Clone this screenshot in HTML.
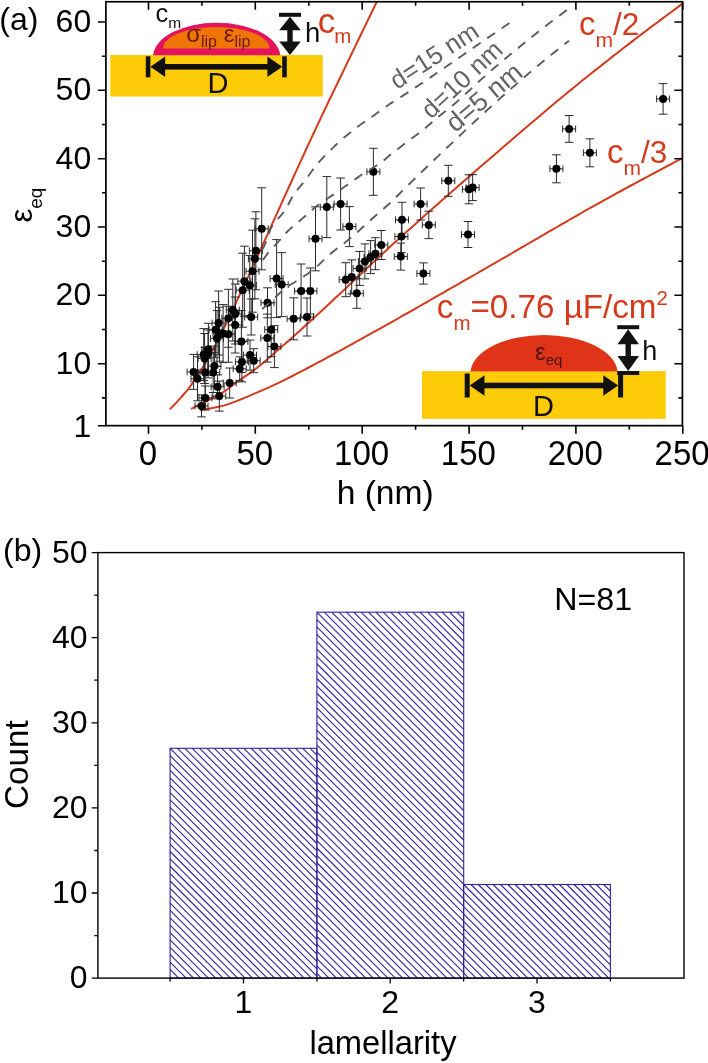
<!DOCTYPE html>
<html lang="en"><head><meta charset="utf-8"><title>Figure</title>
<style>html,body{margin:0;padding:0;background:#fff}svg{display:block}</style></head>
<body>
<svg width="708" height="1063" viewBox="0 0 708 1063" font-family='"Liberation Sans", sans-serif'>
<rect x="0" y="0" width="708" height="1063" fill="#ffffff"/>
<defs><clipPath id="ca"><rect x="105.9" y="1.75" width="576.5" height="423.95"/></clipPath>
</defs>
<rect x="110.3" y="55" width="212.5" height="41.5" fill="#fdcb08"/>
<path d="M153.0,55.2 A63.76,34.50 0 0 1 280.3,55.2 Z" fill="#e5125d"/>
<path d="M163.0,48.4 A53.30,21.51 0 0 1 269.6,48.4 Z" fill="#ee7406"/>
<rect x="145.8" y="56.3" width="4.6" height="21" fill="#111"/><rect x="282.2" y="56.3" width="4.6" height="21" fill="#111"/><rect x="164.2" y="64.0" width="104.2" height="5.6" fill="#111"/><path d="M150.4,66.8 L165.2,56.5 L165.2,77.0 Z" fill="#111"/><path d="M282.2,66.8 L267.4,56.5 L267.4,77.0 Z" fill="#111"/>
<rect x="279.0" y="12.8" width="22" height="4" fill="#111"/><rect x="287.3" y="29.3" width="5.4" height="13.2" fill="#111"/><path d="M290.0,16.8 L279.2,30.3 L300.8,30.3 Z" fill="#111"/><path d="M290.0,55.0 L279.2,41.5 L300.8,41.5 Z" fill="#111"/>
<text x="218" y="92.5" font-size="29" text-anchor="middle" fill="#111">D</text>
<text x="155.6" y="21.9" font-size="25.5" fill="#111">c<tspan font-size="15.5" dy="5.8">m</tspan></text>
<text x="186.2" y="41.8" font-size="24" fill="#6e1a10">σ<tspan font-size="16" dy="4.8">lip</tspan><tspan dy="-4.8" font-size="24"> ε</tspan><tspan font-size="16" dy="4.8">lip</tspan></text>
<text x="305" y="41.7" font-size="27.5" fill="#111">h</text>
<text x="317.8" y="32.6" font-size="35" fill="#d63a1c">c<tspan font-size="20.5" dy="10.8" dx="-1.0">m</tspan></text>
<rect x="422" y="371.2" width="243.7" height="47.6" fill="#fdcb08"/>
<path d="M470.6,371.4 A73.55,38.40 0 0 1 617.5,371.4 Z" fill="#df3418"/>
<rect x="464.7" y="373.5" width="5" height="24" fill="#111"/><rect x="618.1" y="373.5" width="5" height="24" fill="#111"/><rect x="483.5" y="382.7" width="120.8" height="5.6" fill="#111"/><path d="M469.7,385.5 L484.5,375.2 L484.5,395.8 Z" fill="#111"/><path d="M618.1,385.5 L603.3,375.2 L603.3,395.8 Z" fill="#111"/>
<rect x="617.2" y="325.2" width="22" height="4" fill="#111"/><rect x="617.2" y="371.0" width="22" height="4" fill="#111"/><rect x="625.5" y="343.2" width="5.4" height="13.8" fill="#111"/><path d="M628.2,329.2 L617.5,344.2 L639.0,344.2 Z" fill="#111"/><path d="M628.2,371.0 L617.5,356.0 L639.0,356.0 Z" fill="#111"/>
<text x="543.6" y="416.3" font-size="29" text-anchor="middle" fill="#111">D</text>
<text x="535" y="359.6" font-size="24" fill="#4a100a">ε<tspan font-size="15" dy="5">eq</tspan></text>
<text x="642.3" y="359.5" font-size="27" fill="#111">h</text>
<g clip-path="url(#ca)" fill="none">
<path d="M169.9,409.3 L171.7,407.4 L173.5,405.5 L175.4,403.6 L177.2,401.6 L179.0,399.6 L180.9,397.6 L182.7,395.5 L184.5,393.5 L186.4,391.4 L188.2,389.2 L190.0,386.7 L191.9,383.9 L193.7,380.9 L195.5,378.1 L197.3,375.4 L199.2,372.8 L201.0,370.1 L202.8,367.2 L204.7,364.2 L206.5,361.1 L208.3,357.9 L210.2,354.6 L212.0,351.3 L213.8,347.9 L215.7,344.4 L217.5,340.9 L219.3,337.3 L221.2,333.7 L223.0,330.0 L224.8,326.3 L226.7,322.5 L228.5,318.7 L230.3,314.9 L232.1,311.0 L234.0,307.1 L235.8,303.1 L237.6,299.2 L239.5,295.3 L241.3,291.3 L243.1,287.4 L245.0,283.5 L246.8,279.5 L248.6,275.6 L250.5,271.7 L252.3,267.7 L254.1,263.7 L256.0,259.7 L257.8,255.8 L259.6,251.8 L261.5,247.7 L263.3,243.7 L265.1,239.7 L267.0,235.6 L268.8,231.6 L270.6,227.5 L272.4,223.5 L274.3,219.4 L276.1,215.4 L277.9,211.3 L279.8,207.3 L281.6,203.2 L283.4,199.2 L285.3,195.1 L287.1,191.1 L288.9,187.0 L290.8,183.0 L292.6,179.0 L294.4,174.9 L296.3,170.9 L298.1,166.9 L299.9,162.9 L301.8,158.9 L303.6,155.0 L305.4,151.0 L307.2,147.0 L309.1,143.1 L310.9,139.2 L312.7,135.2 L314.6,131.3 L316.4,127.4 L318.2,123.5 L320.1,119.6 L321.9,115.7 L323.7,111.9 L325.6,108.0 L327.4,104.1 L329.2,100.3 L331.1,96.5 L332.9,92.7 L334.7,88.9 L336.6,85.1 L338.4,81.3 L340.2,77.5 L342.1,73.7 L343.9,69.9 L345.7,66.1 L347.5,62.3 L349.4,58.5 L351.2,54.7 L353.0,50.9 L354.9,47.1 L356.7,43.3 L358.5,39.5 L360.4,35.7 L362.2,31.9 L364.0,28.1 L365.9,24.4 L367.7,20.6 L369.5,16.8 L371.4,13.0 L373.2,9.2 L375.0,5.4 L376.9,1.6 L378.7,-2.2 L380.5,-5.9 L382.3,-9.7 L384.2,-13.5 L386.0,-17.3 L387.8,-21.1" stroke="#d63a1c" stroke-width="2"/>
<path d="M191.0,408.8 L195.2,406.8 L199.3,404.7 L203.4,402.7 L207.5,400.6 L211.7,398.5 L215.8,396.5 L219.9,394.2 L224.1,391.7 L228.2,388.7 L232.3,385.5 L236.4,382.4 L240.6,379.5 L244.7,376.7 L248.8,373.9 L253.0,370.9 L257.1,367.8 L261.2,364.5 L265.3,361.0 L269.5,357.4 L273.6,353.8 L277.7,350.2 L281.9,346.6 L286.0,343.0 L290.1,339.4 L294.2,335.7 L298.4,332.0 L302.5,328.3 L306.6,324.6 L310.8,320.8 L314.9,317.0 L319.0,313.2 L323.1,309.4 L327.3,305.5 L331.4,301.7 L335.5,297.8 L339.7,294.0 L343.8,290.1 L347.9,286.2 L352.0,282.3 L356.2,278.4 L360.3,274.5 L364.4,270.7 L368.6,266.8 L372.7,262.9 L376.8,259.1 L380.9,255.2 L385.1,251.4 L389.2,247.6 L393.3,243.8 L397.5,240.1 L401.6,236.3 L405.7,232.6 L409.8,228.9 L414.0,225.2 L418.1,221.5 L422.2,217.8 L426.4,214.1 L430.5,210.5 L434.6,206.8 L438.7,203.2 L442.9,199.5 L447.0,195.9 L451.1,192.3 L455.3,188.7 L459.4,185.1 L463.5,181.5 L467.6,177.9 L471.8,174.3 L475.9,170.7 L480.0,167.1 L484.2,163.6 L488.3,160.0 L492.4,156.4 L496.5,152.9 L500.7,149.3 L504.8,145.8 L508.9,142.2 L513.1,138.6 L517.2,135.1 L521.3,131.6 L525.4,128.0 L529.6,124.5 L533.7,121.0 L537.8,117.5 L542.0,114.0 L546.1,110.5 L550.2,107.0 L554.3,103.6 L558.5,100.1 L562.6,96.7 L566.7,93.3 L570.9,89.9 L575.0,86.5 L579.1,83.2 L583.2,79.8 L587.4,76.5 L591.5,73.2 L595.6,69.9 L599.8,66.7 L603.9,63.4 L608.0,60.2 L612.1,56.9 L616.3,53.7 L620.4,50.5 L624.5,47.3 L628.7,44.1 L632.8,40.9 L636.9,37.8 L641.0,34.6 L645.2,31.5 L649.3,28.4 L653.4,25.2 L657.6,22.2 L661.7,19.1 L665.8,16.0 L669.9,13.0 L674.1,9.9 L678.2,6.9 L682.3,3.9" stroke="#d63a1c" stroke-width="2"/>
<path d="M200.0,410.2 L204.1,409.5 L208.1,408.8 L212.2,408.1 L216.2,407.3 L220.3,406.4 L224.3,405.4 L228.4,404.1 L232.5,402.6 L236.5,401.1 L240.6,399.5 L244.6,397.9 L248.7,396.2 L252.7,394.4 L256.8,392.7 L260.9,390.9 L264.9,389.1 L269.0,387.3 L273.0,385.4 L277.1,383.6 L281.1,381.6 L285.2,379.6 L289.2,377.6 L293.3,375.5 L297.4,373.4 L301.4,371.3 L305.5,369.2 L309.5,367.0 L313.6,364.9 L317.6,362.7 L321.7,360.6 L325.8,358.4 L329.8,356.2 L333.9,354.0 L337.9,351.8 L342.0,349.6 L346.0,347.4 L350.1,345.1 L354.2,342.9 L358.2,340.7 L362.3,338.4 L366.3,336.2 L370.4,333.9 L374.4,331.7 L378.5,329.4 L382.6,327.1 L386.6,324.9 L390.7,322.6 L394.7,320.3 L398.8,318.0 L402.8,315.7 L406.9,313.4 L411.0,311.1 L415.0,308.8 L419.1,306.5 L423.1,304.2 L427.2,301.9 L431.2,299.5 L435.3,297.2 L439.3,294.9 L443.4,292.6 L447.5,290.2 L451.5,287.9 L455.6,285.6 L459.6,283.3 L463.7,280.9 L467.7,278.6 L471.8,276.3 L475.9,274.0 L479.9,271.6 L484.0,269.3 L488.0,267.0 L492.1,264.7 L496.1,262.3 L500.2,260.0 L504.3,257.7 L508.3,255.3 L512.4,253.0 L516.4,250.6 L520.5,248.2 L524.5,245.9 L528.6,243.5 L532.7,241.2 L536.7,238.8 L540.8,236.4 L544.8,234.1 L548.9,231.7 L552.9,229.4 L557.0,227.0 L561.0,224.7 L565.1,222.3 L569.2,220.0 L573.2,217.7 L577.3,215.4 L581.3,213.0 L585.4,210.7 L589.4,208.4 L593.5,206.2 L597.6,203.9 L601.6,201.6 L605.7,199.4 L609.7,197.1 L613.8,194.9 L617.8,192.7 L621.9,190.5 L626.0,188.2 L630.0,186.0 L634.1,183.8 L638.1,181.7 L642.2,179.5 L646.2,177.3 L650.3,175.1 L654.4,173.0 L658.4,170.8 L662.5,168.7 L666.5,166.5 L670.6,164.4 L674.6,162.2 L678.7,160.1 L682.8,158.0" stroke="#d63a1c" stroke-width="2"/>
</g>
<g clip-path="url(#ca)">
<path d="M201.5,394.9V416.9M197.2,394.9H205.8M197.2,416.9H205.8M195.0,405.9H208.0M195.0,402.5V409.3M208.0,402.5V409.3M205.4,386.0V410.0M201.1,386.0H209.7M201.1,410.0H209.7M198.9,398.0H211.9M198.9,394.6V401.4M211.9,394.6V401.4M219.3,381.1V411.1M215.0,381.1H223.6M215.0,411.1H223.6M212.8,396.1H225.8M212.8,392.7V399.5M225.8,392.7V399.5M217.6,374.8V398.8M213.3,374.8H221.9M213.3,398.8H221.9M211.1,386.8H224.1M211.1,383.4V390.2M224.1,383.4V390.2M229.7,368.0V398.0M225.4,368.0H234.0M225.4,398.0H234.0M223.2,383.0H236.2M223.2,379.6V386.4M236.2,379.6V386.4M197.5,356.8V400.8M193.2,356.8H201.8M193.2,400.8H201.8M191.0,378.8H204.0M191.0,375.4V382.2M204.0,375.4V382.2M193.6,354.4V389.4M189.3,354.4H197.9M189.3,389.4H197.9M187.1,371.9H200.1M187.1,368.5V375.3M200.1,368.5V375.3M205.1,347.5V397.5M200.8,347.5H209.4M200.8,397.5H209.4M198.6,372.5H211.6M198.6,369.1V375.9M211.6,369.1V375.9M213.2,352.5V392.5M208.9,352.5H217.5M208.9,392.5H217.5M206.7,372.5H219.7M206.7,369.1V375.9M219.7,369.1V375.9M214.4,346.1V386.1M210.1,346.1H218.7M210.1,386.1H218.7M207.9,366.1H220.9M207.9,362.7V369.5M220.9,362.7V369.5M239.7,356.8V380.8M235.4,356.8H244.0M235.4,380.8H244.0M233.2,368.8H246.2M233.2,365.4V372.2M246.2,365.4V372.2M241.9,341.9V381.9M237.6,341.9H246.2M237.6,381.9H246.2M235.4,361.9H248.4M235.4,358.5V365.3M248.4,358.5V365.3M250.0,340.1V370.1M245.7,340.1H254.3M245.7,370.1H254.3M243.5,355.1H256.5M243.5,351.7V358.5M256.5,351.7V358.5M253.7,348.7V372.7M249.4,348.7H258.0M249.4,372.7H258.0M247.2,360.7H260.2M247.2,357.3V364.1M260.2,357.3V364.1M204.6,333.5V383.5M200.3,333.5H208.9M200.3,383.5H208.9M198.1,358.5H211.1M198.1,355.1V361.9M211.1,355.1V361.9M203.7,328.6V380.6M199.4,328.6H208.0M199.4,380.6H208.0M197.2,354.6H210.2M197.2,351.2V358.0M210.2,351.2V358.0M208.0,329.9V377.9M203.7,329.9H212.3M203.7,377.9H212.3M201.5,353.9H214.5M201.5,350.5V357.3M214.5,350.5V357.3M208.4,323.3V375.3M204.1,323.3H212.7M204.1,375.3H212.7M201.9,349.3H214.9M201.9,345.9V352.7M214.9,345.9V352.7M241.4,310.5V372.5M237.1,310.5H245.7M237.1,372.5H245.7M234.9,341.5H247.9M234.9,338.1V344.9M247.9,338.1V344.9M274.4,325.6V367.6M270.1,325.6H278.7M270.1,367.6H278.7M267.9,346.6H280.9M267.9,343.2V350.0M280.9,343.2V350.0M267.3,314.1V362.1M263.0,314.1H271.6M263.0,362.1H271.6M260.8,338.1H273.8M260.8,334.7V341.5M273.8,334.7V341.5M271.2,302.7V356.7M266.9,302.7H275.5M266.9,356.7H275.5M264.7,329.7H277.7M264.7,326.3V333.1M277.7,326.3V333.1M217.0,310.6V366.6M212.7,310.6H221.3M212.7,366.6H221.3M210.5,338.6H223.5M210.5,335.2V342.0M223.5,335.2V342.0M219.5,307.2V361.2M215.2,307.2H223.8M215.2,361.2H223.8M213.0,334.2H226.0M213.0,330.8V337.6M226.0,330.8V337.6M223.1,304.6V362.6M218.8,304.6H227.4M218.8,362.6H227.4M216.6,333.6H229.6M216.6,330.2V337.0M229.6,330.2V337.0M228.4,306.2V362.2M224.1,306.2H232.7M224.1,362.2H232.7M221.9,334.2H234.9M221.9,330.8V337.6M234.9,330.8V337.6M215.6,301.7V357.7M211.3,301.7H219.9M211.3,357.7H219.9M209.1,329.7H222.1M209.1,326.3V333.1M222.1,326.3V333.1M218.6,291.0V355.0M214.3,291.0H222.9M214.3,355.0H222.9M212.1,323.0H225.1M212.1,319.6V326.4M225.1,319.6V326.4M235.2,297.0V353.0M230.9,297.0H239.5M230.9,353.0H239.5M228.7,325.0H241.7M228.7,321.6V328.4M241.7,321.6V328.4M228.4,289.3V347.3M224.1,289.3H232.7M224.1,347.3H232.7M221.9,318.3H234.9M221.9,314.9V321.7M234.9,314.9V321.7M235.3,284.0V344.0M231.0,284.0H239.6M231.0,344.0H239.6M228.8,314.0H241.8M228.8,310.6V317.4M241.8,310.6V317.4M232.8,279.0V341.0M228.5,279.0H237.1M228.5,341.0H237.1M226.3,310.0H239.3M226.3,306.6V313.4M239.3,306.6V313.4M251.2,299.0V335.0M246.9,299.0H255.5M246.9,335.0H255.5M244.7,317.0H257.7M244.7,313.6V320.4M257.7,313.6V320.4M267.5,287.8V317.8M263.2,287.8H271.8M263.2,317.8H271.8M261.0,302.8H274.0M261.0,299.4V306.2M274.0,299.4V306.2M293.6,297.8V339.8M289.3,297.8H297.9M289.3,339.8H297.9M287.1,318.8H300.1M287.1,315.4V322.2M300.1,315.4V322.2M261.7,187.8V269.8M257.4,187.8H266.0M257.4,269.8H266.0M255.2,228.8H268.2M255.2,225.4V232.2M268.2,225.4V232.2M255.9,211.8V289.8M251.6,211.8H260.2M251.6,289.8H260.2M249.4,250.8H262.4M249.4,247.4V254.2M262.4,247.4V254.2M254.9,218.8V298.8M250.6,218.8H259.2M250.6,298.8H259.2M248.4,258.8H261.4M248.4,255.4V262.2M261.4,255.4V262.2M252.5,230.2V312.2M248.2,230.2H256.8M248.2,312.2H256.8M246.0,271.2H259.0M246.0,267.8V274.6M259.0,267.8V274.6M244.4,246.2V316.2M240.1,246.2H248.7M240.1,316.2H248.7M237.9,281.2H250.9M237.9,277.8V284.6M250.9,277.8V284.6M249.8,255.4V315.4M245.5,255.4H254.1M245.5,315.4H254.1M243.3,285.4H256.3M243.3,282.0V288.8M256.3,282.0V288.8M242.7,253.2V327.2M238.4,253.2H247.0M238.4,327.2H247.0M236.2,290.2H249.2M236.2,286.8V293.6M249.2,286.8V293.6M276.6,239.6V317.6M272.3,239.6H280.9M272.3,317.6H280.9M270.1,278.6H283.1M270.1,275.2V282.0M283.1,275.2V282.0M281.7,252.6V316.6M277.4,252.6H286.0M277.4,316.6H286.0M275.2,284.6H288.2M275.2,281.2V288.0M288.2,281.2V288.0M307.0,298.0V336.0M302.7,298.0H311.3M302.7,336.0H311.3M300.5,317.0H313.5M300.5,313.6V320.4M313.5,313.6V320.4M301.1,264.0V318.0M296.8,264.0H305.4M296.8,318.0H305.4M294.6,291.0H307.6M294.6,287.6V294.4M307.6,287.6V294.4M310.4,268.0V314.0M306.1,268.0H314.7M306.1,314.0H314.7M303.9,291.0H316.9M303.9,287.6V294.4M316.9,287.6V294.4M315.5,206.8V270.8M311.2,206.8H319.8M311.2,270.8H319.8M309.0,238.8H322.0M309.0,235.4V242.2M322.0,235.4V242.2M326.8,176.6V237.6M322.5,176.6H331.1M322.5,237.6H331.1M320.3,207.1H333.3M320.3,203.7V210.5M333.3,203.7V210.5M340.6,178.0V230.0M336.3,178.0H344.9M336.3,230.0H344.9M334.1,204.0H347.1M334.1,200.6V207.4M347.1,200.6V207.4M349.4,206.6V246.6M345.1,206.6H353.7M345.1,246.6H353.7M342.9,226.6H355.9M342.9,223.2V230.0M355.9,223.2V230.0M373.4,148.3V195.3M369.1,148.3H377.7M369.1,195.3H377.7M366.9,171.8H379.9M366.9,168.4V175.2M379.9,168.4V175.2M345.7,262.7V296.7M341.4,262.7H350.0M341.4,296.7H350.0M339.2,279.7H352.2M339.2,276.3V283.1M352.2,276.3V283.1M351.7,259.9V293.9M347.4,259.9H356.0M347.4,293.9H356.0M345.2,276.9H358.2M345.2,273.5V280.3M358.2,273.5V280.3M356.8,278.3V308.3M352.5,278.3H361.1M352.5,308.3H361.1M350.3,293.3H363.3M350.3,289.9V296.7M363.3,289.9V296.7M359.6,251.4V285.4M355.3,251.4H363.9M355.3,285.4H363.9M353.1,268.4H366.1M353.1,265.0V271.8M366.1,265.0V271.8M364.9,243.9V278.9M360.6,243.9H369.2M360.6,278.9H369.2M358.4,261.4H371.4M358.4,258.0V264.8M371.4,258.0V264.8M370.6,240.6V273.6M366.3,240.6H374.9M366.3,273.6H374.9M364.1,257.1H377.1M364.1,253.7V260.5M377.1,253.7V260.5M375.4,237.7V269.7M371.1,237.7H379.7M371.1,269.7H379.7M368.9,253.7H381.9M368.9,250.3V257.1M381.9,250.3V257.1M381.3,230.5V259.5M377.0,230.5H385.6M377.0,259.5H385.6M374.8,245.0H387.8M374.8,241.6V248.4M387.8,241.6V248.4M401.4,220.5V252.5M397.1,220.5H405.7M397.1,252.5H405.7M394.9,236.5H407.9M394.9,233.1V239.9M407.9,233.1V239.9M402.0,202.3V237.3M397.7,202.3H406.3M397.7,237.3H406.3M395.5,219.8H408.5M395.5,216.4V223.2M408.5,216.4V223.2M400.8,243.1V270.1M396.5,243.1H405.1M396.5,270.1H405.1M394.3,256.6H407.3M394.3,253.2V260.0M407.3,253.2V260.0M420.6,188.0V220.0M416.3,188.0H424.9M416.3,220.0H424.9M414.1,204.0H427.1M414.1,200.6V207.4M427.1,200.6V207.4M428.8,211.2V238.6M424.5,211.2H433.1M424.5,238.6H433.1M422.3,224.9H435.3M422.3,221.5V228.3M435.3,221.5V228.3M423.4,262.9V284.1M419.1,262.9H427.7M419.1,284.1H427.7M416.9,273.5H429.9M416.9,270.1V276.9M429.9,270.1V276.9M448.3,165.3V196.3M444.0,165.3H452.6M444.0,196.3H452.6M441.8,180.8H454.8M441.8,177.4V184.2M454.8,177.4V184.2M468.9,174.8V203.8M464.6,174.8H473.2M464.6,203.8H473.2M462.4,189.3H475.4M462.4,185.9V192.7M475.4,185.9V192.7M472.6,174.6V200.6M468.3,174.6H476.9M468.3,200.6H476.9M466.1,187.6H479.1M466.1,184.2V191.0M479.1,184.2V191.0M468.0,221.5V247.5M463.7,221.5H472.3M463.7,247.5H472.3M461.5,234.5H474.5M461.5,231.1V237.9M474.5,231.1V237.9M556.4,154.8V182.8M552.1,154.8H560.7M552.1,182.8H560.7M549.9,168.8H562.9M549.9,165.4V172.2M562.9,165.4V172.2M569.1,115.5V142.3M564.8,115.5H573.4M564.8,142.3H573.4M562.6,128.9H575.6M562.6,125.5V132.3M575.6,125.5V132.3M589.9,138.8V166.8M585.6,138.8H594.2M585.6,166.8H594.2M583.4,152.8H596.4M583.4,149.4V156.2M596.4,149.4V156.2M663.1,83.6V114.2M658.8,83.6H667.4M658.8,114.2H667.4M656.6,98.9H669.6M656.6,95.5V102.3M669.6,95.5V102.3" stroke="#2a2a2a" stroke-width="1.0" fill="none"/>
<circle cx="201.5" cy="405.9" r="4.0" fill="#000"/>
<circle cx="205.4" cy="398.0" r="4.0" fill="#000"/>
<circle cx="219.3" cy="396.1" r="4.0" fill="#000"/>
<circle cx="217.6" cy="386.8" r="4.0" fill="#000"/>
<circle cx="229.7" cy="383.0" r="4.0" fill="#000"/>
<circle cx="197.5" cy="378.8" r="4.0" fill="#000"/>
<circle cx="193.6" cy="371.9" r="4.0" fill="#000"/>
<circle cx="205.1" cy="372.5" r="4.0" fill="#000"/>
<circle cx="213.2" cy="372.5" r="4.0" fill="#000"/>
<circle cx="214.4" cy="366.1" r="4.0" fill="#000"/>
<circle cx="239.7" cy="368.8" r="4.0" fill="#000"/>
<circle cx="241.9" cy="361.9" r="4.0" fill="#000"/>
<circle cx="250.0" cy="355.1" r="4.0" fill="#000"/>
<circle cx="253.7" cy="360.7" r="4.0" fill="#000"/>
<circle cx="204.6" cy="358.5" r="4.0" fill="#000"/>
<circle cx="203.7" cy="354.6" r="4.0" fill="#000"/>
<circle cx="208.0" cy="353.9" r="4.0" fill="#000"/>
<circle cx="208.4" cy="349.3" r="4.0" fill="#000"/>
<circle cx="241.4" cy="341.5" r="4.0" fill="#000"/>
<circle cx="274.4" cy="346.6" r="4.0" fill="#000"/>
<circle cx="267.3" cy="338.1" r="4.0" fill="#000"/>
<circle cx="271.2" cy="329.7" r="4.0" fill="#000"/>
<circle cx="217.0" cy="338.6" r="4.0" fill="#000"/>
<circle cx="219.5" cy="334.2" r="4.0" fill="#000"/>
<circle cx="223.1" cy="333.6" r="4.0" fill="#000"/>
<circle cx="228.4" cy="334.2" r="4.0" fill="#000"/>
<circle cx="215.6" cy="329.7" r="4.0" fill="#000"/>
<circle cx="218.6" cy="323.0" r="4.0" fill="#000"/>
<circle cx="235.2" cy="325.0" r="4.0" fill="#000"/>
<circle cx="228.4" cy="318.3" r="4.0" fill="#000"/>
<circle cx="235.3" cy="314.0" r="4.0" fill="#000"/>
<circle cx="232.8" cy="310.0" r="4.0" fill="#000"/>
<circle cx="251.2" cy="317.0" r="4.0" fill="#000"/>
<circle cx="267.5" cy="302.8" r="4.0" fill="#000"/>
<circle cx="293.6" cy="318.8" r="4.0" fill="#000"/>
<circle cx="261.7" cy="228.8" r="4.0" fill="#000"/>
<circle cx="255.9" cy="250.8" r="4.0" fill="#000"/>
<circle cx="254.9" cy="258.8" r="4.0" fill="#000"/>
<circle cx="252.5" cy="271.2" r="4.0" fill="#000"/>
<circle cx="244.4" cy="281.2" r="4.0" fill="#000"/>
<circle cx="249.8" cy="285.4" r="4.0" fill="#000"/>
<circle cx="242.7" cy="290.2" r="4.0" fill="#000"/>
<circle cx="276.6" cy="278.6" r="4.0" fill="#000"/>
<circle cx="281.7" cy="284.6" r="4.0" fill="#000"/>
<circle cx="307.0" cy="317.0" r="4.0" fill="#000"/>
<circle cx="301.1" cy="291.0" r="4.0" fill="#000"/>
<circle cx="310.4" cy="291.0" r="4.0" fill="#000"/>
<circle cx="315.5" cy="238.8" r="4.0" fill="#000"/>
<circle cx="326.8" cy="207.1" r="4.0" fill="#000"/>
<circle cx="340.6" cy="204.0" r="4.0" fill="#000"/>
<circle cx="349.4" cy="226.6" r="4.0" fill="#000"/>
<circle cx="373.4" cy="171.8" r="4.0" fill="#000"/>
<circle cx="345.7" cy="279.7" r="4.0" fill="#000"/>
<circle cx="351.7" cy="276.9" r="4.0" fill="#000"/>
<circle cx="356.8" cy="293.3" r="4.0" fill="#000"/>
<circle cx="359.6" cy="268.4" r="4.0" fill="#000"/>
<circle cx="364.9" cy="261.4" r="4.0" fill="#000"/>
<circle cx="370.6" cy="257.1" r="4.0" fill="#000"/>
<circle cx="375.4" cy="253.7" r="4.0" fill="#000"/>
<circle cx="381.3" cy="245.0" r="4.0" fill="#000"/>
<circle cx="401.4" cy="236.5" r="4.0" fill="#000"/>
<circle cx="402.0" cy="219.8" r="4.0" fill="#000"/>
<circle cx="400.8" cy="256.6" r="4.0" fill="#000"/>
<circle cx="420.6" cy="204.0" r="4.0" fill="#000"/>
<circle cx="428.8" cy="224.9" r="4.0" fill="#000"/>
<circle cx="423.4" cy="273.5" r="4.0" fill="#000"/>
<circle cx="448.3" cy="180.8" r="4.0" fill="#000"/>
<circle cx="468.9" cy="189.3" r="4.0" fill="#000"/>
<circle cx="472.6" cy="187.6" r="4.0" fill="#000"/>
<circle cx="468.0" cy="234.5" r="4.0" fill="#000"/>
<circle cx="556.4" cy="168.8" r="4.0" fill="#000"/>
<circle cx="569.1" cy="128.9" r="4.0" fill="#000"/>
<circle cx="589.9" cy="152.8" r="4.0" fill="#000"/>
<circle cx="663.1" cy="98.9" r="4.0" fill="#000"/>
</g>
<g clip-path="url(#ca)" fill="none">
<path d="M262.0,250.0 L264.1,246.3 L266.2,241.4 L268.4,234.9 L270.5,228.9 L272.6,225.2 L274.7,222.3 L276.9,219.9 L279.0,217.6 L281.1,215.4 L283.2,212.8 L285.4,209.7 L287.5,206.0 L289.6,202.0 L291.7,198.1 L293.9,194.6 L296.0,191.6 L298.1,188.9 L300.2,186.3 L302.3,183.8 L304.5,181.2 L306.6,178.4 L308.7,175.5 L310.8,172.5 L313.0,169.5 L315.1,166.7 L317.2,164.1 L319.3,161.7 L321.5,159.4 L323.6,157.2 L325.7,155.0 L327.8,152.9 L330.0,150.7 L332.1,148.6 L334.2,146.6 L336.3,144.5 L338.4,142.5 L340.6,140.6 L342.7,138.8 L344.8,136.9 L346.9,135.2 L349.1,133.4 L351.2,131.7 L353.3,130.1 L355.4,128.4 L357.6,126.8 L359.7,125.3 L361.8,123.8 L363.9,122.3 L366.1,120.8 L368.2,119.4 L370.3,117.9 L372.4,116.4 L374.5,114.9 L376.7,113.3 L378.8,111.8 L380.9,110.2 L383.0,108.7 L385.2,107.2 L387.3,105.7 L389.4,104.3 L391.5,102.9 L393.7,101.5 L395.8,100.2 L397.9,98.8 L400.0,97.5 L402.2,96.1 L404.3,94.7 L406.4,93.4 L408.5,92.0 L410.6,90.6 L412.8,89.2 L414.9,87.8 L417.0,86.4 L419.1,85.0 L421.3,83.6 L423.4,82.2 L425.5,80.7 L427.6,79.3 L429.8,77.9 L431.9,76.4 L434.0,75.0 L436.1,73.5 L438.3,72.0 L440.4,70.6 L442.5,69.1 L444.6,67.7 L446.7,66.2 L448.9,64.7 L451.0,63.3 L453.1,61.8 L455.2,60.3 L457.4,58.8 L459.5,57.4 L461.6,55.9 L463.7,54.4 L465.9,52.9 L468.0,51.5 L470.1,50.0 L472.2,48.5 L474.4,47.1 L476.5,45.6 L478.6,44.2 L480.7,42.7 L482.8,41.3 L485.0,39.8 L487.1,38.3 L489.2,36.9 L491.3,35.4 L493.5,34.0 L495.6,32.5 L497.7,31.1 L499.8,29.6 L502.0,28.2 L504.1,26.7 L506.2,25.3 L508.3,23.8 L510.5,22.4 L512.6,20.9 L514.7,19.5" stroke="#5c5c5c" stroke-width="1.9" stroke-dasharray="9.5 8"/>
<path d="M263.0,260.0 L265.6,256.2 L268.2,252.7 L270.8,249.7 L273.4,247.0 L276.0,244.2 L278.6,241.3 L281.2,238.3 L283.8,235.3 L286.4,232.5 L289.1,229.9 L291.7,227.5 L294.3,225.3 L296.9,223.1 L299.5,221.0 L302.1,218.8 L304.7,216.6 L307.3,214.3 L309.9,211.9 L312.5,209.6 L315.1,207.4 L317.7,205.3 L320.3,203.4 L322.9,201.6 L325.5,199.8 L328.1,198.1 L330.7,196.4 L333.3,194.6 L335.9,192.8 L338.5,191.0 L341.2,189.2 L343.8,187.3 L346.4,185.5 L349.0,183.7 L351.6,181.8 L354.2,180.0 L356.8,178.1 L359.4,176.3 L362.0,174.5 L364.6,172.8 L367.2,171.2 L369.8,169.6 L372.4,168.1 L375.0,166.5 L377.6,164.9 L380.2,163.1 L382.8,161.1 L385.4,159.0 L388.0,156.8 L390.6,154.6 L393.3,152.5 L395.9,150.5 L398.5,148.5 L401.1,146.5 L403.7,144.5 L406.3,142.5 L408.9,140.6 L411.5,138.6 L414.1,136.7 L416.7,134.7 L419.3,132.8 L421.9,130.7 L424.5,128.7 L427.1,126.5 L429.7,124.2 L432.3,122.0 L434.9,119.7 L437.5,117.5 L440.1,115.4 L442.7,113.3 L445.4,111.3 L448.0,109.2 L450.6,107.1 L453.2,104.9 L455.8,102.7 L458.4,100.4 L461.0,98.1 L463.6,95.8 L466.2,93.4 L468.8,91.0 L471.4,88.6 L474.0,86.2 L476.6,83.7 L479.2,81.3 L481.8,78.9 L484.4,76.6 L487.0,74.2 L489.6,71.9 L492.2,69.6 L494.8,67.4 L497.5,65.2 L500.1,63.0 L502.7,60.8 L505.3,58.6 L507.9,56.5 L510.5,54.3 L513.1,52.1 L515.7,50.0 L518.3,47.9 L520.9,45.7 L523.5,43.6 L526.1,41.5 L528.7,39.4 L531.3,37.3 L533.9,35.3 L536.5,33.2 L539.1,31.1 L541.7,29.1 L544.3,27.1 L546.9,25.1 L549.6,23.1 L552.2,21.1 L554.8,19.1 L557.4,17.1 L560.0,15.2 L562.6,13.2 L565.2,11.3 L567.8,9.4 L570.4,7.5 L573.0,5.6" stroke="#5c5c5c" stroke-width="1.9" stroke-dasharray="9.5 8"/>
<path d="M262.0,309.0 L264.6,306.9 L267.2,304.7 L269.7,302.5 L272.3,300.2 L274.9,297.7 L277.5,295.2 L280.1,292.7 L282.6,290.4 L285.2,288.2 L287.8,286.4 L290.4,284.7 L293.0,283.2 L295.5,281.7 L298.1,280.2 L300.7,278.5 L303.3,276.8 L305.9,275.0 L308.4,273.2 L311.0,271.2 L313.6,269.2 L316.2,267.2 L318.8,264.9 L321.3,262.4 L323.9,259.8 L326.5,257.3 L329.1,254.9 L331.7,252.8 L334.2,250.7 L336.8,248.7 L339.4,246.8 L342.0,244.8 L344.6,242.9 L347.1,240.8 L349.7,238.7 L352.3,236.5 L354.9,234.3 L357.5,232.0 L360.0,229.7 L362.6,227.3 L365.2,224.9 L367.8,222.6 L370.4,220.3 L372.9,218.0 L375.5,215.7 L378.1,213.5 L380.7,211.3 L383.3,209.0 L385.8,206.8 L388.4,204.5 L391.0,202.1 L393.6,199.6 L396.2,197.0 L398.7,194.5 L401.3,191.8 L403.9,189.2 L406.5,186.7 L409.1,184.2 L411.6,181.7 L414.2,179.2 L416.8,176.7 L419.4,174.2 L421.9,171.7 L424.5,169.2 L427.1,166.8 L429.7,164.3 L432.3,161.8 L434.8,159.3 L437.4,156.9 L440.0,154.4 L442.6,151.9 L445.2,149.5 L447.7,147.0 L450.3,144.6 L452.9,142.1 L455.5,139.7 L458.1,137.2 L460.6,134.8 L463.2,132.4 L465.8,129.9 L468.4,127.5 L471.0,125.1 L473.5,122.7 L476.1,120.3 L478.7,117.9 L481.3,115.6 L483.9,113.2 L486.4,110.8 L489.0,108.5 L491.6,106.1 L494.2,103.8 L496.8,101.4 L499.3,99.1 L501.9,96.8 L504.5,94.5 L507.1,92.2 L509.7,89.9 L512.2,87.6 L514.8,85.4 L517.4,83.1 L520.0,80.9 L522.6,78.7 L525.1,76.4 L527.7,74.2 L530.3,72.1 L532.9,69.9 L535.5,67.7 L538.0,65.6 L540.6,63.5 L543.2,61.3 L545.8,59.2 L548.4,57.1 L550.9,55.1 L553.5,53.0 L556.1,50.9 L558.7,48.9 L561.3,46.8 L563.8,44.8 L566.4,42.7 L569.0,40.7" stroke="#5c5c5c" stroke-width="1.9" stroke-dasharray="9.5 8"/>
</g>
<rect x="105.9" y="1.75" width="576.5" height="423.9" fill="none" stroke="#000" stroke-width="1.7"/>
<path d="M148.5,425.7v8M148.5,1.75v8M201.9,425.7v4M201.9,1.75v4M255.3,425.7v8M255.3,1.75v8M308.8,425.7v4M308.8,1.75v4M362.2,425.7v8M362.2,1.75v8M415.6,425.7v4M415.6,1.75v4M469.1,425.7v8M469.1,1.75v8M522.5,425.7v4M522.5,1.75v4M575.9,425.7v8M575.9,1.75v8M629.3,425.7v4M629.3,1.75v4M682.8,425.7v8M682.8,1.75v8M105.9,363.7h-8M682.4,363.7h-8M105.9,295.3h-8M682.4,295.3h-8M105.9,227.0h-8M682.4,227.0h-8M105.9,158.7h-8M682.4,158.7h-8M105.9,90.3h-8M682.4,90.3h-8M105.9,22.0h-8M682.4,22.0h-8M105.9,397.9h-4M682.4,397.9h-4M105.9,329.5h-4M682.4,329.5h-4M105.9,261.2h-4M682.4,261.2h-4M105.9,192.8h-4M682.4,192.8h-4M105.9,124.5h-4M682.4,124.5h-4M105.9,56.2h-4M682.4,56.2h-4M105.9,425.7h-8" stroke="#000" stroke-width="1.6" fill="none"/>
<text x="91.2" y="32.0" font-size="32" text-anchor="end" fill="#000">60</text>
<text x="91.2" y="100.3" font-size="32" text-anchor="end" fill="#000">50</text>
<text x="91.2" y="168.7" font-size="32" text-anchor="end" fill="#000">40</text>
<text x="91.2" y="237.0" font-size="32" text-anchor="end" fill="#000">30</text>
<text x="91.2" y="305.3" font-size="32" text-anchor="end" fill="#000">20</text>
<text x="91.2" y="373.7" font-size="32" text-anchor="end" fill="#000">10</text>
<text x="91.2" y="436.5" font-size="32" text-anchor="end" fill="#000">1</text>
<text transform="translate(147.9,464.8) scale(1,1.045)" font-size="33" text-anchor="middle" fill="#000">0</text>
<text transform="translate(254.8,464.8) scale(1,1.045)" font-size="33" text-anchor="middle" fill="#000">50</text>
<text transform="translate(361.6,464.8) scale(1,1.045)" font-size="33" text-anchor="middle" fill="#000">100</text>
<text transform="translate(468.4,464.8) scale(1,1.045)" font-size="33" text-anchor="middle" fill="#000">150</text>
<text transform="translate(575.3,464.8) scale(1,1.045)" font-size="33" text-anchor="middle" fill="#000">200</text>
<text transform="translate(682.1,464.8) scale(1,1.045)" font-size="33" text-anchor="middle" fill="#000">250</text>
<text x="385.2" y="503.6" font-size="33.6" text-anchor="middle" fill="#000">h (nm)</text>
<text x="-0.7" y="30.3" font-size="32" fill="#000">(a)</text>
<text transform="translate(31.9,222.6) rotate(-90)" font-size="31" fill="#000">ε<tspan font-size="19" dy="10">eq</tspan></text>
<text x="579" y="35.1" font-size="33" fill="#d63a1c">c<tspan font-size="21" dy="11.9">m</tspan><tspan dy="-11.9" font-size="31.5">/2</tspan></text>
<text x="607" y="163.2" font-size="33" fill="#d63a1c">c<tspan font-size="21" dy="11.9">m</tspan><tspan dy="-11.9" font-size="31.5">/3</tspan></text>
<text x="436.8" y="318" font-size="33.2" fill="#d63a1c">c<tspan font-size="20.5" dy="11.5">m</tspan><tspan dy="-11.5" font-size="33.2">=0.76 µF/cm</tspan><tspan font-size="20.5" dy="-13">2</tspan></text>
<text transform="translate(397,90) rotate(-33)" font-size="25.5" fill="#646464">d=15 nm</text>
<text transform="translate(431,119.8) rotate(-42.8)" font-size="25.5" fill="#646464">d=10 nm</text>
<text transform="translate(455.3,133.2) rotate(-40)" font-size="26.8" fill="#646464">d=5 nm</text>
<path d="M170.12,976.80L171.42,978.10M170.12,969.43L178.79,978.10M170.12,962.06L186.16,978.10M170.12,954.69L193.53,978.10M170.12,947.32L200.90,978.10M170.12,939.95L208.27,978.10M170.12,932.58L215.64,978.10M170.12,925.21L223.01,978.10M170.12,917.84L230.38,978.10M170.12,910.47L237.75,978.10M170.12,903.10L245.12,978.10M170.12,895.73L252.50,978.10M170.12,888.36L259.87,978.10M170.12,880.99L267.24,978.10M170.12,873.62L274.61,978.10M170.12,866.25L281.98,978.10M170.12,858.88L289.35,978.10M170.12,851.51L296.72,978.10M170.12,844.14L304.08,978.10M170.12,836.77L311.46,978.10M170.12,829.40L316.88,976.15M170.12,822.03L316.88,968.78M170.12,814.66L316.88,961.41M170.12,807.29L316.88,954.04M170.12,799.92L316.88,946.67M170.12,792.55L316.88,939.30M170.12,785.18L316.88,931.93M170.12,777.81L316.88,924.56M170.12,770.44L316.88,917.19M170.12,763.07L316.88,909.82M170.12,755.70L316.88,902.45M170.12,748.33L316.88,895.08M177.50,748.33L316.88,887.71M184.87,748.33L316.88,880.34M192.24,748.33L316.88,872.97M199.61,748.33L316.88,865.60M206.98,748.33L316.88,858.23M214.35,748.33L316.88,850.86M221.72,748.33L316.88,843.49M229.09,748.33L316.88,836.12M236.45,748.33L316.88,828.75M243.82,748.33L316.88,821.38M251.19,748.33L316.88,814.01M258.56,748.33L316.88,806.64M265.94,748.33L316.88,799.27M273.31,748.33L316.88,791.90M280.68,748.33L316.88,784.53M288.05,748.33L316.88,777.16M295.42,748.33L316.88,769.79M302.78,748.33L316.88,762.42M310.15,748.33L316.88,755.05" stroke="#33229f" stroke-width="1.1" fill="none"/>
<rect x="170.1" y="748.3" width="146.8" height="229.8" fill="none" stroke="#33229f" stroke-width="1.1"/>
<path d="M316.88,973.30L321.67,978.10M316.88,965.93L329.04,978.10M316.88,958.56L336.41,978.10M316.88,951.19L343.78,978.10M316.88,943.82L351.15,978.10M316.88,936.45L358.52,978.10M316.88,929.08L365.89,978.10M316.88,921.71L373.26,978.10M316.88,914.34L380.63,978.10M316.88,906.97L388.00,978.10M316.88,899.60L395.37,978.10M316.88,892.23L402.75,978.10M316.88,884.86L410.11,978.10M316.88,877.49L417.49,978.10M316.88,870.12L424.85,978.10M316.88,862.75L432.22,978.10M316.88,855.38L439.59,978.10M316.88,848.01L446.96,978.10M316.88,840.64L454.33,978.10M316.88,833.27L461.70,978.10M316.88,825.90L463.62,972.65M316.88,818.53L463.62,965.28M316.88,811.16L463.62,957.91M316.88,803.79L463.62,950.54M316.88,796.42L463.62,943.17M316.88,789.05L463.62,935.80M316.88,781.68L463.62,928.43M316.88,774.31L463.62,921.06M316.88,766.94L463.62,913.69M316.88,759.57L463.62,906.32M316.88,752.20L463.62,898.95M316.88,744.83L463.62,891.58M316.88,737.46L463.62,884.21M316.88,730.09L463.62,876.84M316.88,722.72L463.62,869.47M316.88,715.35L463.62,862.10M316.88,707.98L463.62,854.73M316.88,700.61L463.62,847.36M316.88,693.24L463.62,839.99M316.88,685.87L463.62,832.62M316.88,678.50L463.62,825.25M316.88,671.13L463.62,817.88M316.88,663.76L463.62,810.51M316.88,656.39L463.62,803.14M316.88,649.02L463.62,795.77M316.88,641.65L463.62,788.40M316.88,634.28L463.62,781.03M316.88,626.91L463.62,773.66M316.88,619.54L463.62,766.29M316.88,612.17L463.62,758.92M324.25,612.17L463.62,751.55M331.62,612.17L463.62,744.18M338.99,612.17L463.62,736.81M346.36,612.17L463.62,729.44M353.73,612.17L463.62,722.07M361.10,612.17L463.62,714.70M368.47,612.17L463.62,707.33M375.84,612.17L463.62,699.96M383.20,612.17L463.62,692.59M390.57,612.17L463.62,685.22M397.94,612.17L463.62,677.85M405.31,612.17L463.62,670.48M412.69,612.17L463.62,663.11M420.06,612.17L463.62,655.74M427.43,612.17L463.62,648.37M434.80,612.17L463.62,641.00M442.17,612.17L463.62,633.63M449.53,612.17L463.62,626.26M456.90,612.17L463.62,618.89" stroke="#33229f" stroke-width="1.1" fill="none"/>
<rect x="316.9" y="612.2" width="146.8" height="365.9" fill="none" stroke="#33229f" stroke-width="1.1"/>
<path d="M463.62,972.93L468.80,978.10M463.62,965.56L476.17,978.10M463.62,958.19L483.54,978.10M463.62,950.82L490.91,978.10M463.62,943.45L498.28,978.10M463.62,936.08L505.64,978.10M463.62,928.71L513.01,978.10M463.62,921.34L520.38,978.10M463.62,913.97L527.75,978.10M463.62,906.60L535.12,978.10M463.62,899.23L542.50,978.10M463.62,891.86L549.87,978.10M463.62,884.49L557.24,978.10M471.00,884.49L564.61,978.10M478.37,884.49L571.98,978.10M485.74,884.49L579.35,978.10M493.11,884.49L586.72,978.10M500.48,884.49L594.09,978.10M507.85,884.49L601.46,978.10M515.22,884.49L608.83,978.10M522.59,884.49L610.38,972.28M529.95,884.49L610.38,964.91M537.33,884.49L610.38,957.54M544.69,884.49L610.38,950.17M552.07,884.49L610.38,942.80M559.43,884.49L610.38,935.43M566.81,884.49L610.38,928.06M574.17,884.49L610.38,920.69M581.55,884.49L610.38,913.32M588.91,884.49L610.38,905.95M596.28,884.49L610.38,898.58M603.65,884.49L610.38,891.21" stroke="#33229f" stroke-width="1.1" fill="none"/>
<rect x="463.6" y="884.5" width="146.8" height="93.6" fill="none" stroke="#33229f" stroke-width="1.1"/>
<rect x="97.9" y="552.6" width="586.1" height="425.5" fill="none" stroke="#000" stroke-width="1.4"/>
<path d="M97.9,978.1h-6.2M97.9,935.6h-3.6M97.9,893.0h-6.2M97.9,850.5h-3.6M97.9,807.9h-6.2M97.9,765.4h-3.6M97.9,722.8h-6.2M97.9,680.2h-3.6M97.9,637.7h-6.2M97.9,595.2h-3.6M97.9,552.6h-6.2M170.1,978.1v3.3M243.5,978.1v5.5M316.9,978.1v3.3M390.2,978.1v5.5M463.6,978.1v3.3M537.0,978.1v5.5M610.4,978.1v3.3" stroke="#000" stroke-width="1.3" fill="none"/>
<text x="87.6" y="988.0" font-size="32" text-anchor="end" fill="#000">0</text>
<text x="87.6" y="902.9" font-size="32" text-anchor="end" fill="#000">10</text>
<text x="87.6" y="817.8" font-size="32" text-anchor="end" fill="#000">20</text>
<text x="87.6" y="732.7" font-size="32" text-anchor="end" fill="#000">30</text>
<text x="87.6" y="647.6" font-size="32" text-anchor="end" fill="#000">40</text>
<text x="87.6" y="562.5" font-size="32" text-anchor="end" fill="#000">50</text>
<text x="243.5" y="1013.2" font-size="32" text-anchor="middle" fill="#000">1</text>
<text x="390.2" y="1013.2" font-size="32" text-anchor="middle" fill="#000">2</text>
<text x="537.0" y="1013.2" font-size="32" text-anchor="middle" fill="#000">3</text>
<text x="383" y="1054.4" font-size="32.7" text-anchor="middle" fill="#000">lamellarity</text>
<text transform="translate(28,764.6) rotate(-90)" font-size="33.2" text-anchor="middle" fill="#000">Count</text>
<text x="554.2" y="609.5" font-size="32.2" fill="#000">N=81</text>
<text x="3" y="561.3" font-size="32" fill="#000">(b)</text>
</svg>
</body></html>
